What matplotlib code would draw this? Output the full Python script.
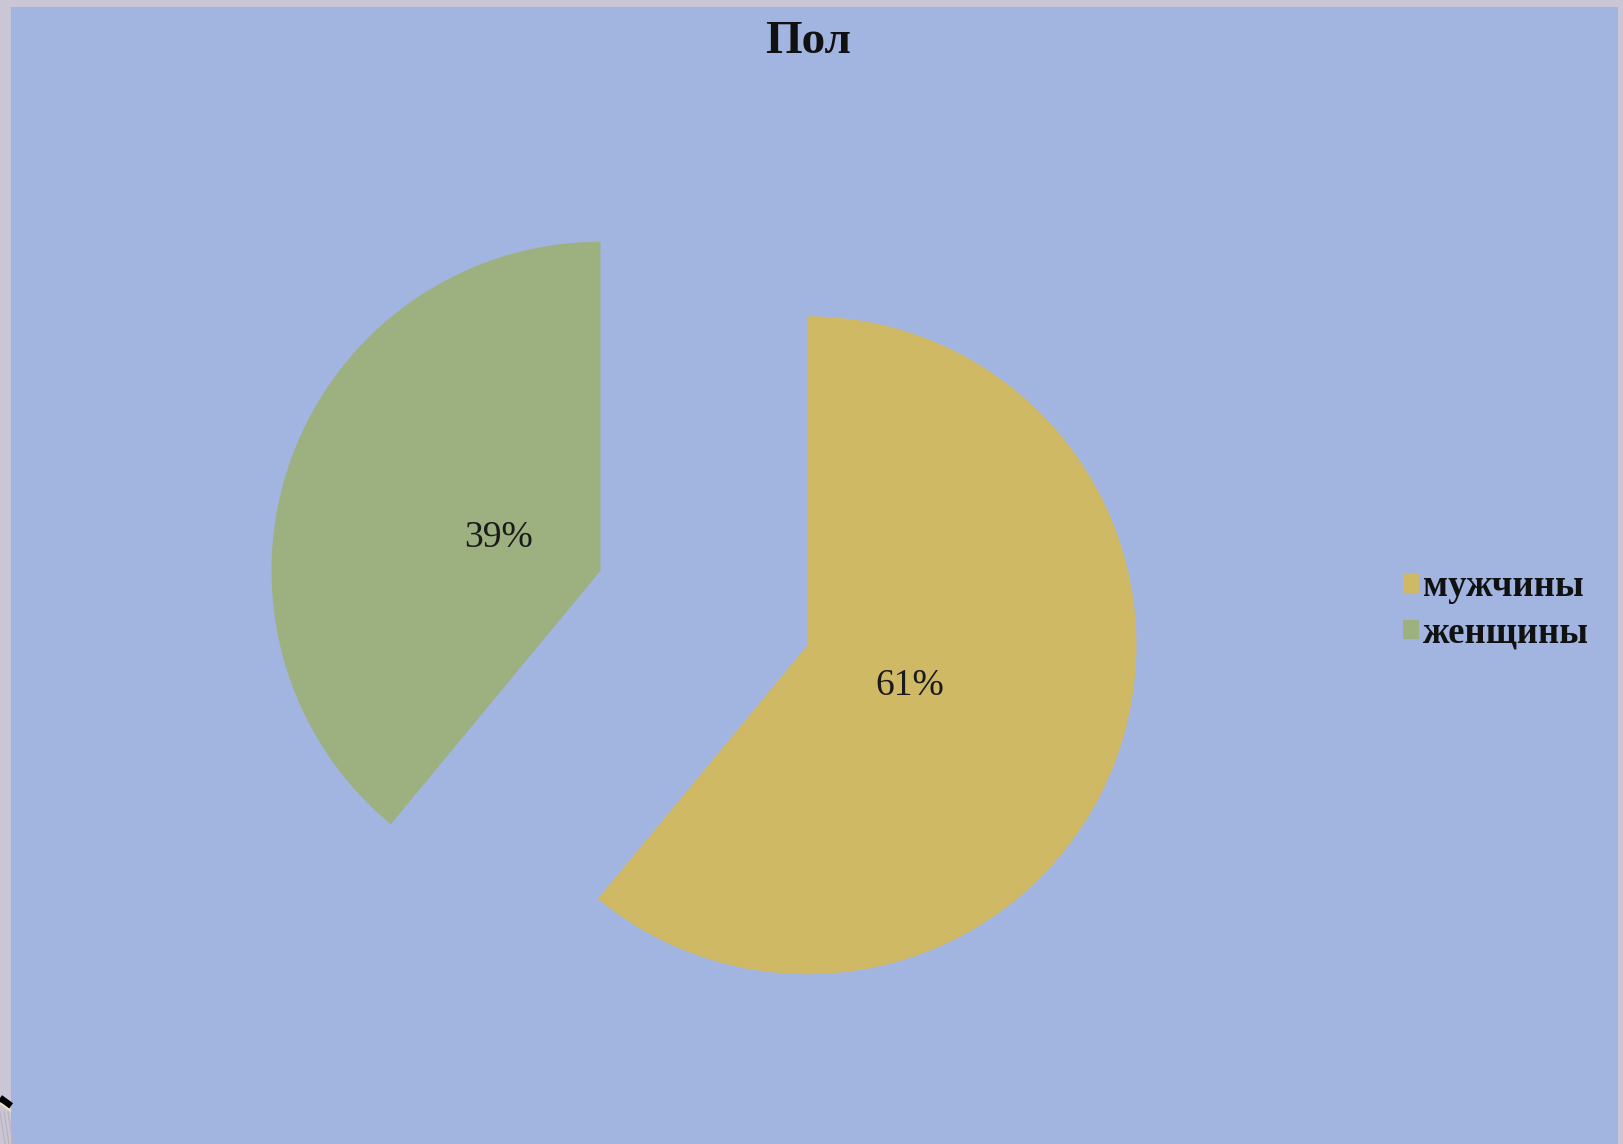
import matplotlib.pyplot as plt
from matplotlib.lines import Line2D

# данные диаграммы "Пол"
labels = ['мужчины', 'женщины']
shares = [61, 39]
colors = ['#CFB965', '#9DB07F']

W, H = 1624, 1144
fig = plt.figure(figsize=(W / 100, H / 100), dpi=100)
fig.patch.set_facecolor('#CBC6D5')

# синяя область диаграммы (рамка слайда вокруг)
ax = fig.add_axes([11 / W, 0, (W - 17) / W, (H - 7) / H])
ax.set_facecolor('#A2B5E1')

R = 329
wedges, texts, autotexts = ax.pie(
    shares, colors=colors, startangle=90, counterclock=False,
    explode=[110, 110], center=(704, H - 608), radius=R,
    autopct='%d%%', pctdistance=0.33, frame=True,
    wedgeprops=dict(linewidth=0),
    textprops=dict(family='Liberation Serif', fontsize=27, color='#1a1a1a'))
for t in autotexts:
    x, y = t.get_position()
    t.set_position((x, y - 4))
ax.set_xlim(11, W - 6)
ax.set_ylim(0, H - 7)
ax.set_aspect('equal')
ax.set_xticks([])
ax.set_yticks([])
for s in ax.spines.values():
    s.set_visible(False)

fig.text(808 / W, 1 - 42 / H, 'Пол', ha='center', va='center',
         family='Liberation Serif', fontweight='bold', fontsize=34, color='#111111')

leg = fig.legend(wedges, labels, loc='center left', bbox_to_anchor=(1385 / W, 1 - 610 / H),
                 frameon=False, handlelength=0.42, handleheight=0.42, handletextpad=0.12,
                 labelspacing=0.3, borderpad=0,
                 prop=dict(family='Liberation Serif', weight='bold', size=26.5))
for t in leg.get_texts():
    t.set_color('#111111')

# уголок оформления слайда слева внизу
fig.add_artist(Line2D([0, 11 / W], [1 - 1098 / H, 1 - 1106 / H], color='black', lw=5,
                      solid_capstyle='butt', transform=fig.transFigure))
fig.add_artist(Line2D([0, 11 / W], [1 - 1103 / H, 1 - 1111 / H], color='#EDE3B8', lw=1.5,
                      solid_capstyle='butt', transform=fig.transFigure))
for x0 in [0, 4, 8]:
    fig.add_artist(Line2D([x0 / W, (x0 + 5) / W], [1 - 1112 / H, 0], color='#B8B5C0', lw=1,
                          transform=fig.transFigure))

fig.savefig('out.png', dpi=100, facecolor=fig.get_facecolor())
